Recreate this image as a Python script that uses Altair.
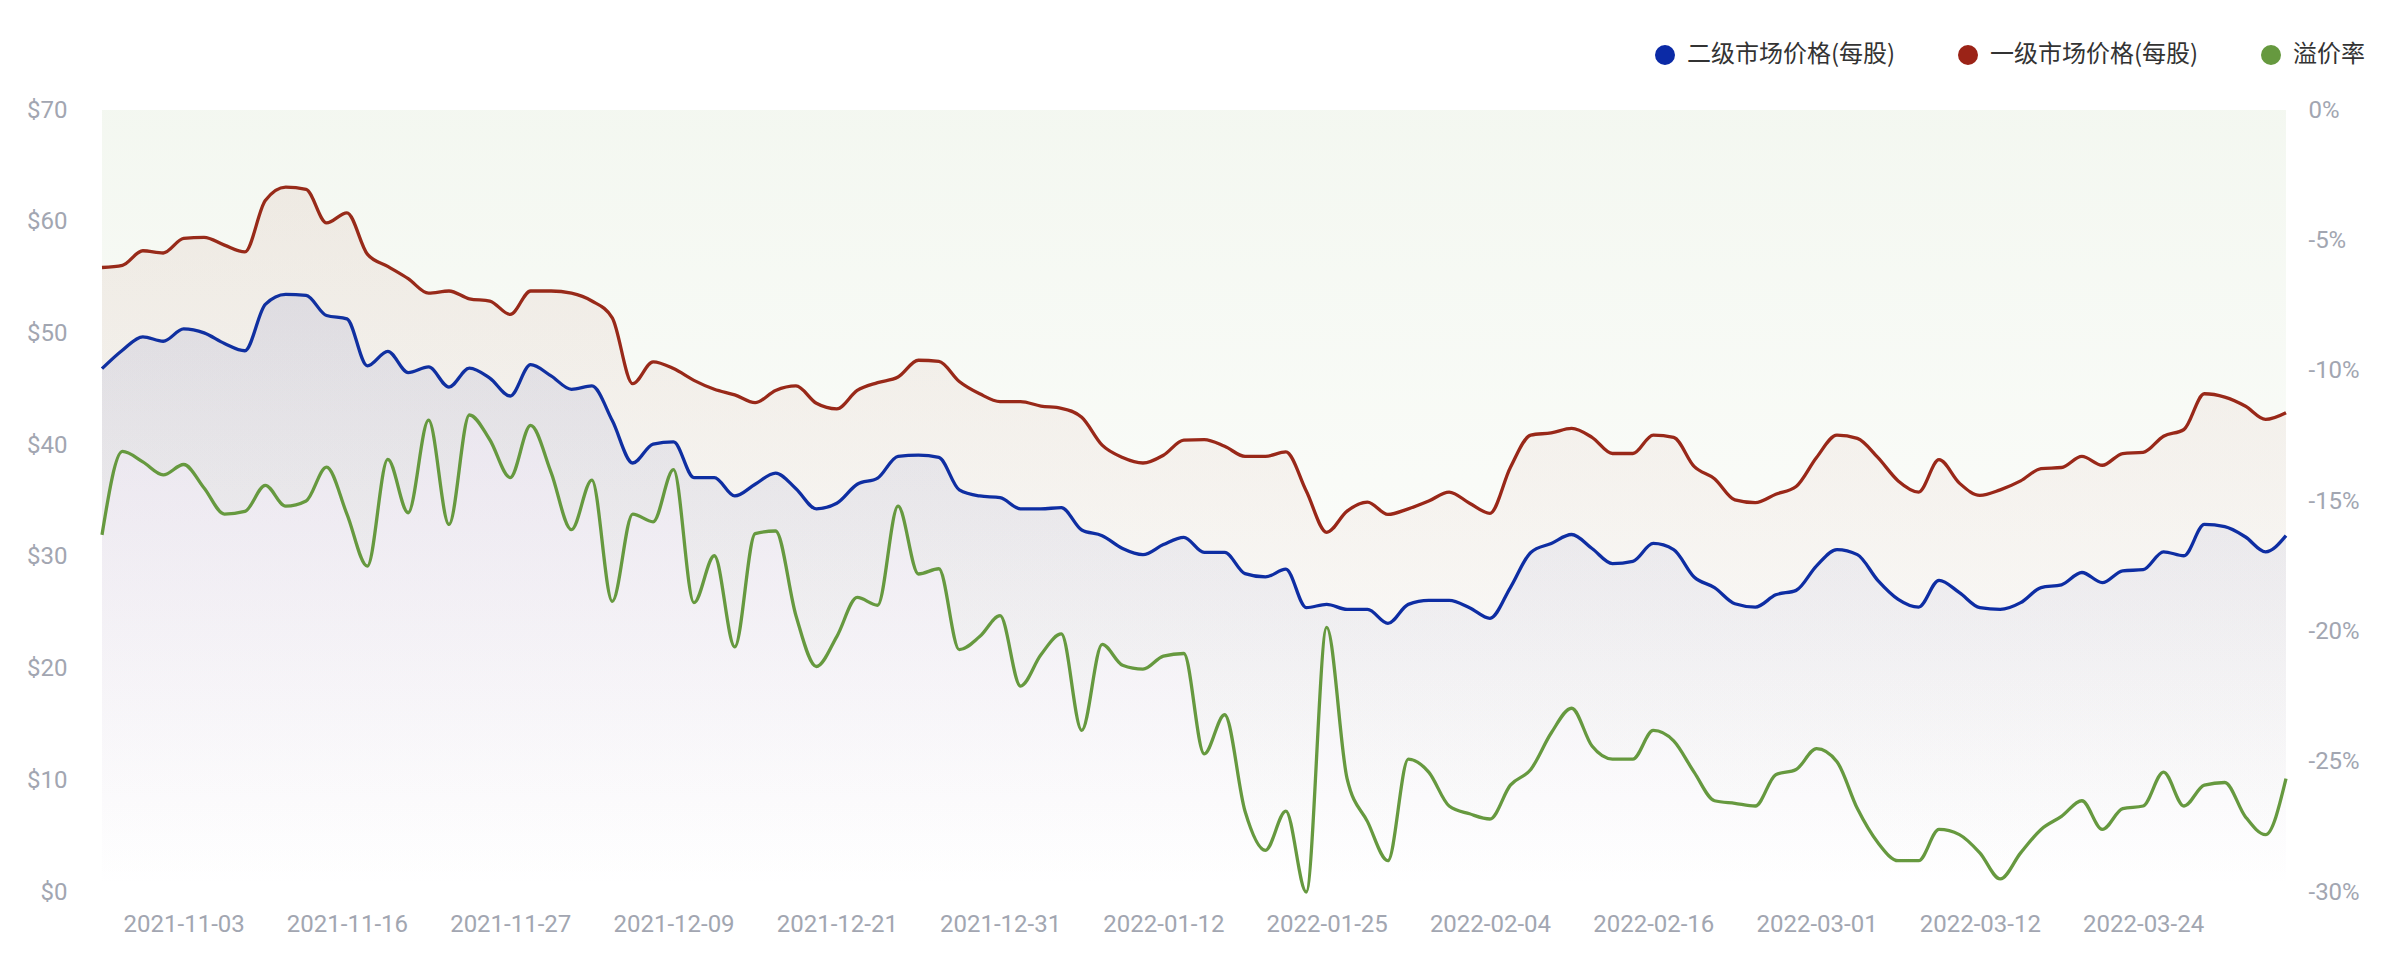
import altair as alt
import pandas as pd

# ---------------- data ----------------
tick_labels = ["2021-11-03", "2021-11-16", "2021-11-27", "2021-12-09", "2021-12-21",
               "2021-12-31", "2022-01-12", "2022-01-25", "2022-02-04", "2022-02-16",
               "2022-03-01", "2022-03-12", "2022-03-24"]
tick_first = 4   # index of the first labelled point
tick_step = 8    # points between labels

series_names = ["二级市场价格(每股)", "一级市场价格(每股)", "溢价率"]
series_colors = ["#0b2aa6", "#9b2317", "#66993f"]

# 二级市场价格(每股)  ($)
secondary = [46.85, 48.5, 49.7, 49.3, 50.4, 50.05, 49.1, 48.45, 52.6, 53.5,
             53.4, 51.6, 51.3, 47.1, 48.4, 46.5, 47.0, 45.2, 46.9, 46.0,
             44.4, 47.2, 46.2, 45.0, 45.3, 42.2, 38.4, 40.1, 40.3, 37.1,
             37.1, 35.45, 36.5, 37.5, 36.1, 34.3, 34.8, 36.5, 37.05, 39.0,
             39.1, 38.9, 36.0, 35.45, 35.3, 34.3, 34.3, 34.4, 32.4, 31.9,
             30.75, 30.2, 31.1, 31.75, 30.4, 30.4, 28.5, 28.2, 28.9, 25.45,
             25.75, 25.3, 25.3, 24.05, 25.75, 26.1, 26.1, 25.45, 24.5, 27.25,
             30.4, 31.2, 32.0, 30.75, 29.4, 29.6, 31.2, 30.65, 28.2, 27.25,
             25.8, 25.5, 26.6, 27.0, 29.2, 30.65, 30.2, 27.9, 26.2, 25.5,
             27.9, 26.8, 25.45, 25.3, 25.9, 27.25, 27.5, 28.6, 27.7, 28.75,
             28.85, 30.45, 30.1, 32.9, 32.7, 31.8, 30.45, 31.9]

# 一级市场价格(每股)  ($)
primary = [55.9, 56.1, 57.4, 57.2, 58.5, 58.6, 57.9, 57.3, 61.9, 63.1,
           62.9, 59.9, 60.8, 57.1, 56.0, 54.9, 53.6, 53.8, 53.1, 52.9,
           51.7, 53.8, 53.8, 53.6, 52.9, 51.4, 45.5, 47.45, 46.85, 45.8,
           45.0, 44.5, 43.8, 44.9, 45.3, 43.75, 43.25, 44.9, 45.6, 46.1,
           47.6, 47.5, 45.7, 44.6, 43.9, 43.9, 43.5, 43.3, 42.5, 40.0,
           38.9, 38.4, 39.1, 40.45, 40.5, 39.9, 39.0, 39.0, 39.4, 35.9,
           32.2, 34.1, 34.9, 33.8, 34.3, 35.0, 35.8, 34.8, 33.9, 38.0,
           40.9, 41.1, 41.5, 40.7, 39.25, 39.25, 40.9, 40.7, 38.1, 37.0,
           35.1, 34.85, 35.6, 36.3, 38.9, 40.9, 40.6, 38.9, 36.8, 35.8,
           38.7, 36.6, 35.5, 36.0, 36.8, 37.9, 38.0, 39.0, 38.2, 39.25,
           39.35, 40.8, 41.4, 44.6, 44.3, 43.5, 42.3, 42.9]

# 溢价率  (%)
premium = [-16.3, -13.1, -13.5, -14.0, -13.6, -14.5, -15.5, -15.4, -14.4, -15.2,
           -15.0, -13.7, -15.5, -17.5, -13.4, -15.45, -11.9, -15.9, -11.7, -12.65,
           -14.1, -12.1, -13.9, -16.1, -14.2, -18.85, -15.5, -15.8, -13.8, -18.9,
           -17.1, -20.6, -16.25, -16.15, -19.4, -21.35, -20.2, -18.7, -19.0, -15.2,
           -17.8, -17.6, -20.7, -20.2, -19.4, -22.1, -20.9, -20.1, -23.8, -20.5,
           -21.3, -21.45, -20.95, -20.85, -24.7, -23.2, -26.9, -28.4, -26.9, -30.0,
           -19.85, -25.65, -27.3, -28.8, -24.9, -25.4, -26.7, -27.0, -27.2, -25.9,
           -25.3, -23.9, -22.95, -24.4, -24.9, -24.9, -23.8, -24.2, -25.4, -26.5,
           -26.6, -26.7, -25.5, -25.3, -24.5, -25.0, -26.8, -28.1, -28.8, -28.8,
           -27.6, -27.8, -28.5, -29.5, -28.5, -27.6, -27.1, -26.5, -27.6, -26.8,
           -26.7, -25.4, -26.7, -25.9, -25.8, -27.1, -27.8, -25.65]

# ---------------- tables ----------------
n = len(primary)
idx = list(range(n))
price_df = pd.DataFrame({
    "idx": idx + idx,
    "series": [series_names[0]] * n + [series_names[1]] * n,
    "value": secondary + primary,
})
prem_df = pd.DataFrame({"idx": idx, "series": [series_names[2]] * n, "value": premium})

# ---------------- styling ----------------
AXIS_GREY = "#a2a6b1"
FONT = "Roboto"
LINE_W = 3.3

tick_values = [tick_first + tick_step * k for k in range(len(tick_labels))]
label_expr = ("[" + ",".join("'%s'" % t for t in tick_labels) + "]"
              + "[round((datum.value - %d) / %d)]" % (tick_first, tick_step))

x_enc = alt.X(
    "idx:Q",
    scale=alt.Scale(domain=[0, n - 1], nice=False, zero=False),
    axis=alt.Axis(values=tick_values, labelExpr=label_expr, title=None, grid=False,
                  domain=False, ticks=False, labelFont=FONT, labelFontSize=24,
                  labelColor=AXIS_GREY, labelPadding=20, labelFlush=False),
)

y_left = alt.Y(
    "value:Q",
    scale=alt.Scale(domain=[0, 70], nice=False),
    axis=alt.Axis(orient="left", values=list(range(0, 71, 10)), labelExpr="'$' + datum.value",
                  title=None, grid=False, domain=False, ticks=False, labelFont=FONT,
                  labelFontSize=24, labelColor=AXIS_GREY, labelPadding=35),
)
y_right = alt.Y(
    "value:Q",
    scale=alt.Scale(domain=[-30, 0], nice=False),
    axis=alt.Axis(orient="right", values=list(range(-30, 1, 5)), labelExpr="datum.value + '%'",
                  title=None, grid=False, domain=False, ticks=False, labelFont=FONT,
                  labelFontSize=24, labelColor=AXIS_GREY, labelPadding=22),
)

color_enc = alt.Color(
    "series:N",
    scale=alt.Scale(domain=series_names, range=series_colors),
    legend=alt.Legend(title=None, orient="none", legendX=1551, legendY=-67,
                      direction="horizontal", symbolType="circle", symbolSize=100,
                      symbolStrokeWidth=10, symbolOpacity=1, labelFont="Noto Sans CJK SC",
                      labelFontSize=24, labelColor="#333333", labelOffset=10,
                      columnPadding=47, labelLimit=500, padding=0),
)


def grad(rgb, a0):
    return alt.Gradient(
        gradient="linear", x1=0, x2=0, y1=0, y2=1,
        stops=[alt.GradientStop(color="rgba(%s,%s)" % (rgb, a0), offset=0),
               alt.GradientStop(color="rgba(%s,0)" % rgb, offset=1)],
    )


base_price = alt.Chart(price_df)
area_red = base_price.transform_filter(alt.datum.series == series_names[1]).mark_area(
    interpolate="monotone", color=grad("154,36,24", 0.07)
).encode(x=x_enc, y=y_left)
area_blue = base_price.transform_filter(alt.datum.series == series_names[0]).mark_area(
    interpolate="monotone", color=grad("60,70,180", 0.10)
).encode(x=x_enc, y=y_left)
price_lines = base_price.mark_line(interpolate="monotone", strokeWidth=LINE_W).encode(
    x=x_enc, y=y_left, color=color_enc, detail="series:N"
)
left = alt.layer(area_red, area_blue, price_lines)

base_prem = alt.Chart(prem_df)
area_green = base_prem.mark_area(
    interpolate="monotone", color=grad("102,153,61", 0.075)
).encode(x=x_enc, y=y_right)
prem_line = base_prem.mark_line(interpolate="monotone", strokeWidth=LINE_W).encode(
    x=x_enc, y=y_right, color=color_enc
)
right = alt.layer(area_green, prem_line)

chart = (
    alt.layer(left, right)
    .resolve_scale(y="independent")
    .properties(
        width=2184, height=782,
        autosize=alt.AutoSizeParams(type="none"),
        padding={"left": 94, "top": 102, "right": 90, "bottom": 70},
        background="white",
    )
    .configure_view(strokeWidth=0)
)

chart.save("out.html", embed_options={"renderer": "svg", "actions": False})
